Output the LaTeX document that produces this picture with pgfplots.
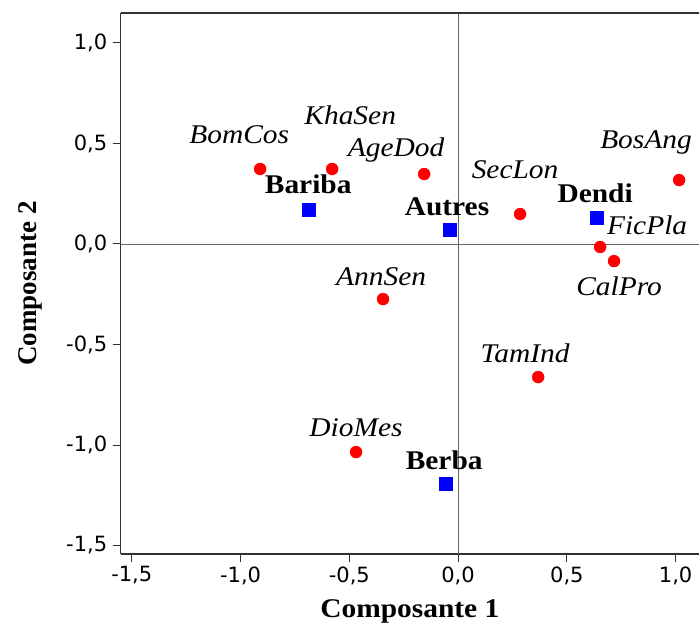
\documentclass[border=0pt]{standalone}
\usepackage{pgfplots}
\pgfplotsset{compat=1.18}
\usepackage{fontspec}
\setmainfont{Liberation Serif}[FakeStretch=1.09]
\newfontfamily\tickfont{DejaVu Sans}
\newfontfamily\ylabfont{Liberation Serif}
\definecolor{frame}{RGB}{50,50,50}
\definecolor{zeroline}{RGB}{100,100,100}
\begin{document}
\begin{tikzpicture}
\useasboundingbox (0,0) rectangle (699pt,626pt);
\begin{axis}[
  at={(120.7pt,72pt)}, anchor=south west,
  scale only axis, width=578.3pt, height=541pt,
  xmin=-1.551, xmax=1.1075, ymin=-1.542, ymax=1.149,
  axis x line*=bottom, axis y line*=left,
  axis line style={frame, line width=1.2pt, -},
  xtick={-1.5,-1,-0.5,0,0.5,1}, ytick={-1.5,-1,-0.5,0,0.5,1},
  tick align=outside, major tick length=8pt,
  tick style={frame, line width=1pt},
  /pgf/number format/.cd, use comma, fixed, fixed zerofill, precision=1, assume math mode=true,
  /pgfplots/.cd,
  tick label style={font=\tickfont\fontsize{21}{25}\selectfont, text=black},
  xticklabel style={yshift=-1pt},
  yticklabel style={xshift=-2pt},
  xlabel={\bfseries\fontsize{27}{30}\selectfont Composante 1},
  xlabel style={at={(axis description cs:0.5,-0.1183)}, anchor=base},
  ylabel={\ylabfont\bfseries\fontsize{27}{30}\selectfont Composante 2},
  ylabel style={at={(axis description cs:-0.146,0.5)}, anchor=base, rotate=0},
  clip=false,
]
\draw[zeroline, line width=0.9pt] (axis cs:0,-1.542) -- (axis cs:0,1.149);
\draw[zeroline, line width=0.9pt] (axis cs:-1.551,0) -- (axis cs:1.1075,0);
\draw[frame, line width=1.2pt] (rel axis cs:0,1) -- (rel axis cs:1,1);
% species (red circles)
\addplot[only marks, mark=*, mark size=6pt, color=red] coordinates {
(-0.910,0.373) (-0.579,0.373) (-0.156,0.348) (0.285,0.149) (1.016,0.318)
(0.653,-0.015) (0.717,-0.085) (-0.345,-0.274) (0.368,-0.662) (-0.469,-1.035)
};
% groups (blue squares)
\addplot[only marks, mark=square*, mark size=6.5pt, color=blue] coordinates {
(-0.689,0.169) (-0.037,0.070) (0.639,0.129) (-0.055,-1.194)
};
\begin{scope}[every node/.style={anchor=base, inner sep=0pt, font=\fontsize{27}{30}\selectfont\itshape}]
\node at (axis cs:-1.006,0.502) {BomCos};
\node at (axis cs:-0.496,0.592) {KhaSen};
\node at (axis cs:-0.285,0.433) {AgeDod};
\node at (axis cs:0.864,0.473) {BosAng};
\node at (axis cs:0.262,0.328) {SecLon};
\node at (axis cs:0.869,0.045) {FicPla};
\node at (axis cs:0.740,-0.254) {CalPro};
\node at (axis cs:-0.354,-0.204) {AnnSen};
\node at (axis cs:0.308,-0.587) {TamInd};
\node at (axis cs:-0.469,-0.960) {DioMes};
\end{scope}
\begin{scope}[every node/.style={anchor=base, inner sep=0pt, font=\fontsize{27}{30}\selectfont\bfseries}]
\node at (axis cs:-0.689,0.249) {Bariba};
\node at (axis cs:-0.051,0.144) {Autres};
\node at (axis cs:0.630,0.204) {Dendi};
\node at (axis cs:-0.064,-1.124) {Berba};
\end{scope}
\end{axis}
\end{tikzpicture}
\end{document}
